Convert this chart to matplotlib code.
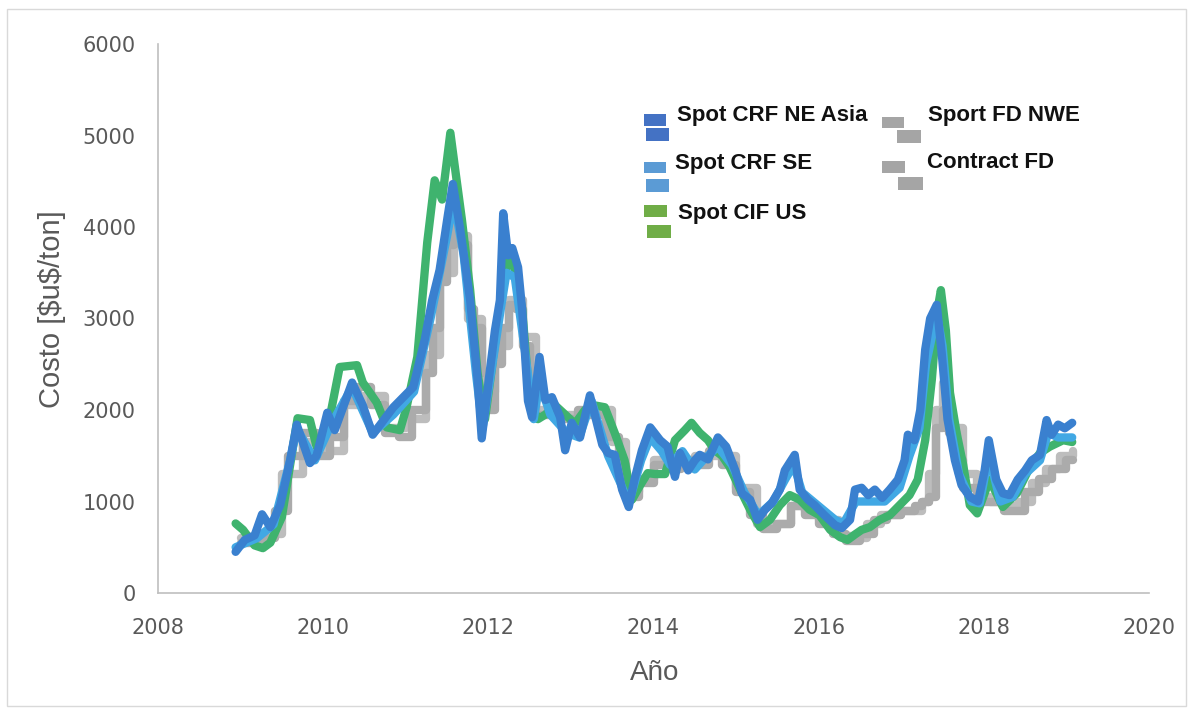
import matplotlib
matplotlib.use("Agg")
import matplotlib.pyplot as plt
from matplotlib.patches import Rectangle

# Spot CRF NE Asia (dark blue)
ne_asia_t = [2008.94, 2009.05, 2009.17, 2009.26, 2009.36, 2009.48, 2009.60, 2009.68, 2009.84, 2009.92,
             2010.05, 2010.14, 2010.35, 2010.48, 2010.60, 2010.85, 2011.09, 2011.23, 2011.32, 2011.41,
             2011.51, 2011.57, 2011.66, 2011.78, 2011.87, 2011.92, 2012.02, 2012.08, 2012.14, 2012.18,
             2012.24, 2012.29, 2012.36, 2012.41, 2012.48, 2012.53, 2012.62, 2012.69, 2012.77, 2012.87,
             2012.93, 2013.01, 2013.11, 2013.23, 2013.38, 2013.45, 2013.53, 2013.62, 2013.70, 2013.77,
             2013.86, 2013.96, 2014.08, 2014.17, 2014.26, 2014.32, 2014.42, 2014.50, 2014.56, 2014.66,
             2014.78, 2014.88, 2014.99, 2015.07, 2015.17, 2015.26, 2015.35, 2015.43, 2015.53, 2015.59,
             2015.71, 2015.77, 2015.87, 2015.95, 2016.07, 2016.20, 2016.28, 2016.38, 2016.44, 2016.52,
             2016.60, 2016.68, 2016.77, 2016.86, 2016.96, 2017.04, 2017.08, 2017.16, 2017.23, 2017.29,
             2017.35, 2017.43, 2017.49, 2017.56, 2017.65, 2017.73, 2017.83, 2017.93, 2018.01, 2018.06,
             2018.15, 2018.23, 2018.31, 2018.41, 2018.50, 2018.58, 2018.68, 2018.76, 2018.82, 2018.90,
             2018.98, 2019.07]
ne_asia_v = [450, 580, 630, 860, 720, 960, 1450, 1840, 1420, 1500,
             1970, 1780, 2300, 2050, 1730, 2030, 2250, 2770, 3200, 3530,
             4130, 4470, 3970, 3200, 2330, 1690, 2440, 2870, 3200, 4150,
             3690, 3770, 3560, 3090, 2100, 1920, 2580, 2110, 2140, 1920,
             1560, 1860, 1700, 2160, 1620, 1530, 1510, 1130, 940, 1240,
             1560, 1810, 1670, 1600, 1270, 1530, 1340, 1450, 1510, 1460,
             1700, 1600, 1340, 1090, 1020, 800, 910, 980, 1130, 1340,
             1510, 1130, 1020, 960, 850, 740, 710, 800, 1130, 1150,
             1070, 1130, 1040, 1130, 1240, 1450, 1730, 1670, 2000, 2660,
             3000, 3150, 2620, 1900, 1450, 1180, 1050, 1000, 1340, 1670,
             1240, 1090, 1070, 1240, 1340, 1450, 1510, 1890, 1730, 1840,
             1800, 1860]

# Spot CRF SE (light blue)
se_t = [2008.94, 2009.20, 2009.40, 2009.60, 2009.68, 2009.90, 2010.10, 2010.35, 2010.60, 2010.85,
        2011.10, 2011.30, 2011.50, 2011.58, 2011.70, 2011.85, 2011.93, 2012.05, 2012.15, 2012.22,
        2012.32, 2012.45, 2012.55, 2012.62, 2012.75, 2012.95, 2013.10, 2013.25, 2013.45, 2013.60,
        2013.70, 2013.85, 2013.96, 2014.10, 2014.20, 2014.35, 2014.50, 2014.60, 2014.78, 2014.95,
        2015.10, 2015.27, 2015.45, 2015.60, 2015.70, 2015.80, 2016.00, 2016.20, 2016.30, 2016.45,
        2016.60, 2016.80, 2016.98, 2017.10, 2017.22, 2017.30, 2017.43, 2017.50, 2017.58, 2017.70,
        2017.85, 2017.95, 2018.06, 2018.20, 2018.35, 2018.50, 2018.68, 2018.78, 2018.90, 2019.07]
se_v = [500, 600, 750, 1450, 1800, 1450, 1850, 2250, 1750, 1950,
        2200, 3000, 3900, 4300, 3700, 2400, 1800, 2500, 3100, 3500,
        3450, 2600, 1900, 2300, 1950, 1750, 1700, 2100, 1500, 1200,
        980, 1450, 1700, 1550, 1400, 1550, 1350, 1450, 1600, 1400,
        1100, 850, 1000, 1250, 1400, 1100, 950, 800, 760, 1000,
        1000, 1000, 1150, 1500, 1800, 2500, 3050, 2700, 1900, 1300,
        1000, 980, 1500, 1000, 1050, 1300, 1450, 1750, 1700, 1700]

# Spot CIF US (green)
cif_us_t = [2008.94, 2009.03, 2009.17, 2009.27, 2009.36, 2009.50, 2009.60, 2009.69, 2009.84, 2009.92,
            2010.05, 2010.20, 2010.41, 2010.48, 2010.65, 2010.77, 2010.93, 2011.01, 2011.14, 2011.26,
            2011.35, 2011.44, 2011.54, 2011.60, 2011.68, 2011.78, 2011.87, 2011.96, 2012.04, 2012.14,
            2012.24, 2012.32, 2012.41, 2012.50, 2012.60, 2012.69, 2012.81, 2012.93, 2013.05, 2013.17,
            2013.29, 2013.41, 2013.53, 2013.65, 2013.74, 2013.84, 2013.93, 2014.02, 2014.14, 2014.26,
            2014.38, 2014.46, 2014.56, 2014.66, 2014.74, 2014.83, 2014.92, 2015.05, 2015.17, 2015.29,
            2015.41, 2015.53, 2015.65, 2015.77, 2015.89, 2016.01, 2016.14, 2016.26, 2016.35, 2016.44,
            2016.52, 2016.62, 2016.74, 2016.86, 2016.98, 2017.10, 2017.20, 2017.29, 2017.37, 2017.44,
            2017.48, 2017.54, 2017.59, 2017.67, 2017.75, 2017.83, 2017.92, 2018.07, 2018.23, 2018.40,
            2018.56, 2018.68, 2018.80, 2018.96, 2019.07]
cif_us_v = [760, 690, 520, 490, 550, 830, 1400, 1910, 1890, 1600,
            1780, 2470, 2490, 2300, 2080, 1810, 1780, 2030, 2580, 3830,
            4510, 4300, 5030, 4620, 4080, 3310, 2400, 1900, 2440, 3150,
            3650, 3550, 3100, 2100, 1900, 1950, 2050, 1950, 1850, 2000,
            2050, 2030, 1750, 1450, 1020, 1180, 1310, 1300, 1300, 1670,
            1780, 1860, 1750, 1670, 1560, 1500, 1380, 1130, 910, 720,
            800, 960, 1070, 1020, 910, 850, 690, 610, 580, 640,
            690, 720, 800, 850, 960, 1070, 1240, 1670, 2330, 3100,
            3310, 2870, 2190, 1750, 1400, 960, 870, 1240, 940, 1090,
            1380, 1530, 1600, 1670, 1650]

# Sport FD NWE (grey, stepped)
nwe_t = [2009.00, 2009.25, 2009.42, 2009.58, 2009.75, 2009.92, 2010.08, 2010.25, 2010.42, 2010.58,
         2010.75, 2010.92, 2011.08, 2011.25, 2011.33, 2011.42, 2011.50, 2011.58, 2011.67, 2011.75,
         2011.83, 2011.92, 2012.00, 2012.08, 2012.17, 2012.25, 2012.33, 2012.42, 2012.50, 2012.58,
         2012.75, 2012.92, 2013.08, 2013.25, 2013.42, 2013.58, 2013.67, 2013.83, 2014.00, 2014.17,
         2014.33, 2014.50, 2014.67, 2014.83, 2015.00, 2015.17, 2015.33, 2015.50, 2015.67, 2015.83,
         2016.00, 2016.17, 2016.33, 2016.50, 2016.67, 2016.83, 2017.00, 2017.17, 2017.25, 2017.33,
         2017.42, 2017.50, 2017.58, 2017.67, 2017.75, 2017.92, 2018.08, 2018.25, 2018.42, 2018.50,
         2018.67, 2018.83, 2019.00, 2019.08]
nwe_v = [550, 600, 900, 1500, 1750, 1500, 1700, 2100, 2250, 2050,
         1750, 1700, 2000, 2400, 2900, 3400, 3800, 4100, 3800, 3100,
         2900, 2400, 2000, 2500, 2900, 3150, 3100, 2700, 2100, 1950,
         1950, 1900, 2000, 1950, 1700, 1400, 1050, 1200, 1400, 1350,
         1450, 1400, 1550, 1400, 1100, 850, 700, 750, 950, 850,
         750, 650, 570, 650, 800, 850, 900, 950, 1000, 1050,
         1800, 2000, 1750, 1450, 1150, 1000, 1000, 900, 900, 1100,
         1250, 1350, 1450, 1450]

# Contract FD (light grey, stepped)
contract_t = [2009.00, 2009.25, 2009.50, 2009.75, 2010.00, 2010.25, 2010.50, 2010.75, 2011.00, 2011.25,
              2011.42, 2011.58, 2011.75, 2011.92, 2012.08, 2012.25, 2012.42, 2012.58, 2012.75, 2013.00,
              2013.25, 2013.50, 2013.67, 2013.83, 2014.00, 2014.25, 2014.50, 2014.75, 2015.00, 2015.25,
              2015.50, 2015.67, 2015.83, 2016.00, 2016.25, 2016.42, 2016.58, 2016.75, 2017.00, 2017.25,
              2017.33, 2017.42, 2017.50, 2017.58, 2017.75, 2017.92, 2018.08, 2018.25, 2018.42, 2018.58,
              2018.75, 2018.92, 2019.08]
contract_v = [600, 650, 1300, 1650, 1550, 2050, 2150, 1800, 1900, 2600,
              3500, 3900, 3000, 2200, 2700, 3200, 2800, 2000, 1950, 1950,
              2000, 1650, 1100, 1250, 1450, 1400, 1500, 1500, 1150, 750,
              750, 950, 900, 800, 620, 600, 750, 850, 900, 1000,
              1300, 2000, 2300, 1800, 1300, 1050, 1000, 950, 1000, 1200,
              1350, 1500, 1550]

W, H = 1192, 712
fig = plt.figure(figsize=(W / 100, H / 100), dpi=100)
ax = fig.add_axes([158 / W, 1 - 593 / H, (1149 - 158) / W, (593 - 44) / H])

lw = 6
kw = dict(solid_capstyle="round", solid_joinstyle="round")
ax.plot(contract_t, contract_v, color="#bdbdbd", lw=lw, drawstyle="steps-post", **kw)
ax.plot(nwe_t, nwe_v, color="#ababab", lw=lw, drawstyle="steps-post", **kw)
ax.plot(cif_us_t, cif_us_v, color="#3fb36e", lw=lw, **kw)
ax.plot(se_t, se_v, color="#41a8e4", lw=lw, **kw)
ax.plot(ne_asia_t, ne_asia_v, color="#3a80cf", lw=lw, **kw)

ax.set_xlim(2008, 2020)
ax.set_ylim(0, 6000)
ax.set_xticks(range(2008, 2021, 2))
ax.set_yticks(range(0, 6001, 1000))

for side in ["top", "right"]:
    ax.spines[side].set_visible(False)
for side in ["left", "bottom"]:
    ax.spines[side].set_color("#bfbfbf")
    ax.spines[side].set_linewidth(1.2)

ax.tick_params(axis="both", length=0, colors="#595959", labelsize=15)
ax.tick_params(axis="y", pad=16)
ax.tick_params(axis="x", pad=18)

ax.set_ylabel("Costo [\\$u\\$/ton]", fontsize=21, color="#595959",
              family=["Liberation Sans Narrow", "Liberation Sans", "DejaVu Sans"])
ax.yaxis.set_label_coords(-0.093, 0.517)
ax.set_xlabel("Año", fontsize=20, color="#595959", family=["Liberation Sans", "DejaVu Sans"])
ax.xaxis.set_label_coords(0.5015, -0.122)

# custom legend (two offset swatches per entry, like the original)
def px(x, y):
    return x / W, 1 - y / H

def swatch(x0, y0, x1, y1, color):
    fx, fy = px(x0, y1)
    fig.add_artist(Rectangle((fx, fy), (x1 - x0) / W, (y1 - y0) / H,
                             transform=fig.transFigure, color=color, lw=0))

legend_items = [
    ("Spot CRF NE Asia", "#4472c4", (644, 114, 666, 126), (646, 128, 669, 141), (677, 116)),
    ("Spot CRF SE", "#5b9bd5", (644, 162, 666, 173), (646, 179, 669, 192), (675, 164)),
    ("Spot CIF US", "#70ad47", (644, 205, 667, 217), (647, 225, 671, 238), (678, 213)),
    ("Sport FD NWE", "#a5a5a5", (882, 117, 904, 128), (897, 130, 921, 143), (928, 116)),
    ("Contract FD", "#a5a5a5", (882, 161, 905, 173), (898, 177, 923, 190), (927, 163)),
]
for label, color, r1, r2, tpos in legend_items:
    swatch(*r1, color)
    swatch(*r2, color)
    tx, ty = px(*tpos)
    fig.text(tx, ty, label, fontsize=16, fontweight="bold", color="#111111",
             va="center", ha="left", family=["Liberation Sans", "DejaVu Sans"])

# outer chart frame
fig.add_artist(Rectangle((7 / W, 1 - 706 / H), (1186 - 7) / W, (706 - 9) / H,
                         transform=fig.transFigure, fill=False, edgecolor="#d9d9d9", lw=1))

fig.savefig("out.png", dpi=100)
